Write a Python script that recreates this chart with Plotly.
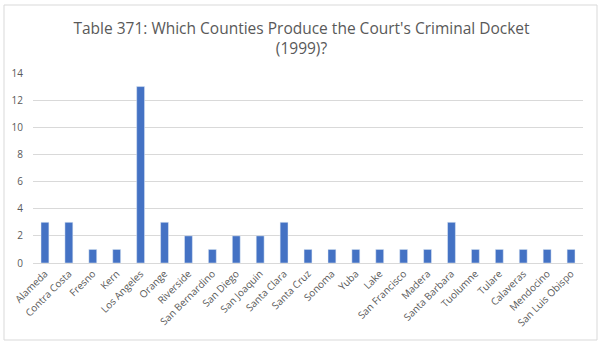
import plotly.graph_objects as go

counties = ["Alameda", "Contra Costa", "Fresno", "Kern", "Los Angeles", "Orange", "Riverside",
            "San Bernardino", "San Diego", "San Joaquin", "Santa Clara", "Santa Cruz", "Sonoma",
            "Yuba", "Lake", "San Francisco", "Madera", "Santa Barbara", "Tuolumne", "Tulare",
            "Calaveras", "Mendocino", "San Luis Obispo"]
counts = [3, 3, 1, 1, 13, 3, 2, 1, 2, 2, 3, 1, 1, 1, 1, 1, 1, 3, 1, 1, 1, 1, 1]
y_ticks = [0, 2, 4, 6, 8, 10, 12, 14]
title_text = "Table 371: Which Counties Produce the Court's Criminal Docket<br>(1999)?"

L, R, T, B, W, H = 33, 20, 73, 83, 603, 346
pw, ph = W - L - R, H - T - B

fig = go.Figure(go.Bar(x=counties, y=counts, marker_color="#4472C4", width=0.33))
fig.update_layout(
    width=W, height=H, margin=dict(l=L, r=R, t=T, b=B),
    paper_bgcolor="white", plot_bgcolor="white",
    font=dict(family="Open Sans, sans-serif", color="#595959", size=10),
    title=dict(text=title_text, x=0.5, xanchor="center", y=1 - 34 / H, yanchor="middle",
               font=dict(size=15.5, color="#595959")),
    showlegend=False,
    xaxis=dict(tickangle=-45, showgrid=False, showline=True, linecolor="#d9d9d9",
               ticks="", tickfont=dict(size=10)),
    yaxis=dict(range=[0, 14], tickvals=y_ticks, gridcolor="#d9d9d9", zeroline=False,
               showline=False, ticks="", ticklabelstandoff=9, tickfont=dict(size=10)),
    shapes=[dict(type="rect", xref="paper", yref="paper",
                 x0=(4 - L) / pw, x1=(597 - L) / pw,
                 y0=(H - B - 340) / ph, y1=(H - B - 5) / ph,
                 line=dict(color="#d9d9d9", width=1), layer="below")],
)
fig.write_html("out.html")
